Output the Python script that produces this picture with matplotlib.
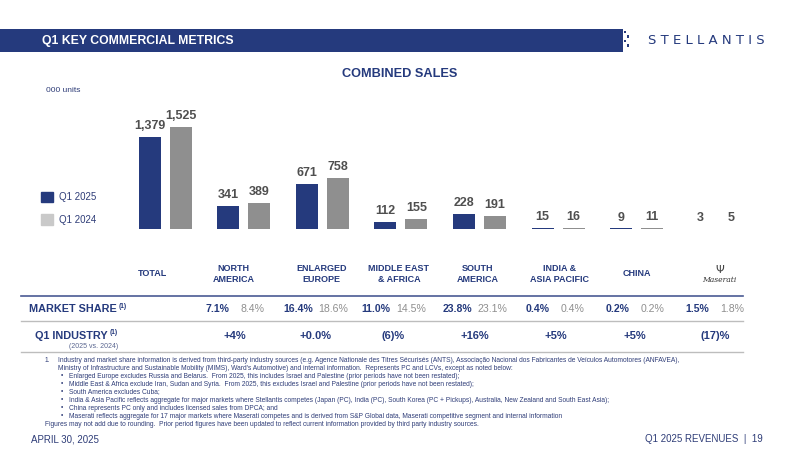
import matplotlib
matplotlib.use('Agg')
import matplotlib.pyplot as plt
from matplotlib.patches import Rectangle, Patch
from matplotlib.lines import Line2D
from matplotlib.transforms import blended_transform_factory
import numpy as np

# data
categories = ['TOTAL', 'NORTH\nAMERICA', 'ENLARGED\nEUROPE', 'MIDDLE EAST\n& AFRICA',
              'SOUTH\nAMERICA', 'INDIA &\nASIA PACIFIC', 'CHINA', 'Maserati']
sales_2025 = [1379, 341, 671, 112, 228, 15, 9, 3]
sales_2024 = [1525, 389, 758, 155, 191, 16, 11, 5]
share_2025 = ['7.1%', '16.4%', '11.0%', '23.8%', '0.4%', '0.2%', '1.5%']
share_2024 = ['8.4%', '18.6%', '14.5%', '23.1%', '0.4%', '0.2%', '1.8%']
industry = ['+4%', '+0.0%', '(6)%', '+16%', '+5%', '+5%', '(17)%']

footnotes = [
    ('1.', 'Industry and market share information is derived from third-party industry sources (e.g. Agence Nationale des Titres Sécurisés (ANTS), Associação Nacional dos Fabricantes de Veículos Automotores (ANFAVEA),'),
    ('', 'Ministry of Infrastructure and Sustainable Mobility (MIMS), Ward\'s Automotive) and internal information.  Represents PC and LCVs, except as noted below:'),
    ('•', 'Enlarged Europe excludes Russia and Belarus.  From 2025, this includes Israel and Palestine (prior periods have not been restated);'),
    ('•', 'Middle East & Africa exclude Iran, Sudan and Syria.  From 2025, this excludes Israel and Palestine (prior periods have not been restated);'),
    ('•', 'South America excludes Cuba;'),
    ('•', 'India & Asia Pacific reflects aggregate for major markets where Stellantis competes (Japan (PC), India (PC), South Korea (PC + Pickups), Australia, New Zealand and South East Asia);'),
    ('•', 'China represents PC only and includes licensed sales from DPCA; and'),
    ('•', 'Maserati reflects aggregate for 17 major markets where Maserati competes and is derived from S&P Global data, Maserati competitive segment and internal information'),
    ('-', 'Figures may not add due to rounding.  Prior period figures have been updated to reflect current information provided by third party industry sources.'),
]

NAVY = '#253a7d'
GRAY = '#8f8f8f'
LIGHT = '#c9c9c9'
TXT = '#2f3d78'

plt.rcParams['font.family'] = ['Liberation Sans', 'DejaVu Sans']

W, H = 800, 450
fig = plt.figure(figsize=(8, 4.5), dpi=100)
renderer = fig.canvas.get_renderer()


def px(x, y):
    return x / W, 1 - y / H


def sup_after(t, y, text):
    # put a small "(1)" right after a text
    bb = t.get_window_extent(renderer)
    fig.text((bb.x1 + 2) / W, 1 - y / H, text, color=NAVY, fontsize=4.8,
             fontweight='bold', ha='left', va='center')


# header band
fig.add_artist(Rectangle(px(0, 52), 623 / W, 23 / H, transform=fig.transFigure,
                         facecolor=NAVY, edgecolor='none'))
fig.text(*px(42, 41), 'Q1 KEY COMMERCIAL METRICS', color='white', fontsize=8.8,
         fontweight='bold', va='center', ha='left')
for i in range(4):
    fig.add_artist(Rectangle(px(624 + (i % 2) * 3, 33 + i * 4.5), 2 / W, 2 / H,
                             transform=fig.transFigure, facecolor=NAVY, edgecolor='none'))
fig.text(*px(706, 41), 'S T E L L A N T I S', color=NAVY, fontsize=9.5,
         ha='center', va='center', family=['DejaVu Sans'])

fig.text(*px(400, 74), 'COMBINED SALES', color=NAVY, fontsize=9.2, fontweight='bold',
         ha='center', va='center')
fig.text(*px(46, 90), '000 units', color=TXT, fontsize=6, ha='left', va='center')

# bars
n = len(categories)
step = 78.64
left = 165 - step / 2
ax = fig.add_axes([left / W, (H - 229) / H, n * step / W, (1700 * 0.0669) / H])
x = np.arange(n)
off = 15.5 / step
bw = 22 / step
b1 = ax.bar(x - off, sales_2025, bw, color=NAVY)
b2 = ax.bar(x + off, sales_2024, bw, color=GRAY)
for bars, vals in ((b1, sales_2025), (b2, sales_2024)):
    for b, v in zip(bars, vals):
        ax.annotate(f'{v:,}', (b.get_x() + b.get_width() / 2, v), xytext=(0, 3.5),
                    textcoords='offset points', ha='center', va='bottom',
                    fontsize=9, fontweight='bold', color='#4f4f4f')
ax.set_xlim(-0.5, n - 0.5)
ax.set_ylim(0, 1700)
ax.axis('off')

# legend
fig.legend([Patch(color=NAVY), Patch(color=LIGHT)], ['Q1 2025', 'Q1 2024'],
           loc='upper left', bbox_to_anchor=px(32, 183), frameon=False,
           handlelength=1.25, handleheight=1.25, handletextpad=0.6,
           labelspacing=1.25, fontsize=7, labelcolor=TXT)

# category labels
tr = blended_transform_factory(ax.transData, fig.transFigure)
label_shift = [-12, -10, -1, -2, -2, 1, 0, 4]
for i, c in enumerate(categories[:-1]):
    ax.text(i + label_shift[i] / step, 1 - 274 / H, c, transform=tr, ha='center',
            va='center', fontsize=6.5, fontweight='bold', color=NAVY, linespacing=1.15)
# Maserati logo
ax.text(7 + 4 / step, 1 - 270 / H, 'Ψ', transform=tr, ha='center', va='center',
        fontsize=8, color='#444444', family=['DejaVu Sans'])
ax.text(7 + 4 / step, 1 - 280 / H, 'Maserati', transform=tr, ha='center', va='center',
        fontsize=5.5, color='#333333', style='italic', family=['DejaVu Serif'])

# table lines
fig.add_artist(Line2D([21 / W, 743 / W], [1 - 296 / H] * 2, color='#4a5a93', lw=1.2))
fig.add_artist(Line2D([21 / W, 743 / W], [1 - 321 / H] * 2, color='#bdbdbd', lw=1))
fig.add_artist(Line2D([21 / W, 743 / W], [1 - 352 / H] * 2, color='#bdbdbd', lw=1))

t1 = fig.text(*px(29, 309), 'MARKET SHARE', color=NAVY, fontsize=7.8, fontweight='bold',
              ha='left', va='center')
sup_after(t1, 306, '(1)')
t2 = fig.text(*px(108, 336), 'Q1 INDUSTRY', color=NAVY, fontsize=7.8, fontweight='bold',
              ha='right', va='center')
sup_after(t2, 333, '(1)')
fig.text(*px(118, 347), '(2025 vs. 2024)', color='#5a6690', fontsize=5, ha='right', va='center')

col_x = [235, 315.5, 393.5, 475, 555.5, 635, 715]
for cx, a, b, ind in zip(col_x, share_2025, share_2024, industry):
    fig.text(*px(cx - 17.5, 309), a, color=NAVY, fontsize=7.6, fontweight='bold',
             ha='center', va='center')
    fig.text(*px(cx + 17.5, 309), b, color=GRAY, fontsize=7.6, ha='center', va='center')
    fig.text(*px(cx, 336), ind, color=NAVY, fontsize=8, fontweight='bold',
             ha='center', va='center')

# footnotes
y = 360
for mark, line in footnotes:
    if mark == '1.':
        fig.text(*px(45, y), mark, color=TXT, fontsize=4.8, ha='left', va='center')
        fig.text(*px(58, y), line, color=TXT, fontsize=4.8, ha='left', va='center')
    elif mark == '•':
        fig.text(*px(61, y), mark, color=TXT, fontsize=4.8, ha='left', va='center')
        fig.text(*px(69, y), line, color=TXT, fontsize=4.8, ha='left', va='center')
    elif mark == '-':
        fig.text(*px(45, y), line, color=TXT, fontsize=4.8, ha='left', va='center')
    else:
        fig.text(*px(58, y), line, color=TXT, fontsize=4.8, ha='left', va='center')
    y += 8

fig.text(*px(31, 439), 'APRIL 30, 2025', color=TXT, fontsize=7, ha='left', va='center')
fig.text(*px(763, 439), 'Q1 2025 REVENUES  |  19', color=TXT, fontsize=7, ha='right', va='center')

fig.savefig('out.png', dpi=100)
